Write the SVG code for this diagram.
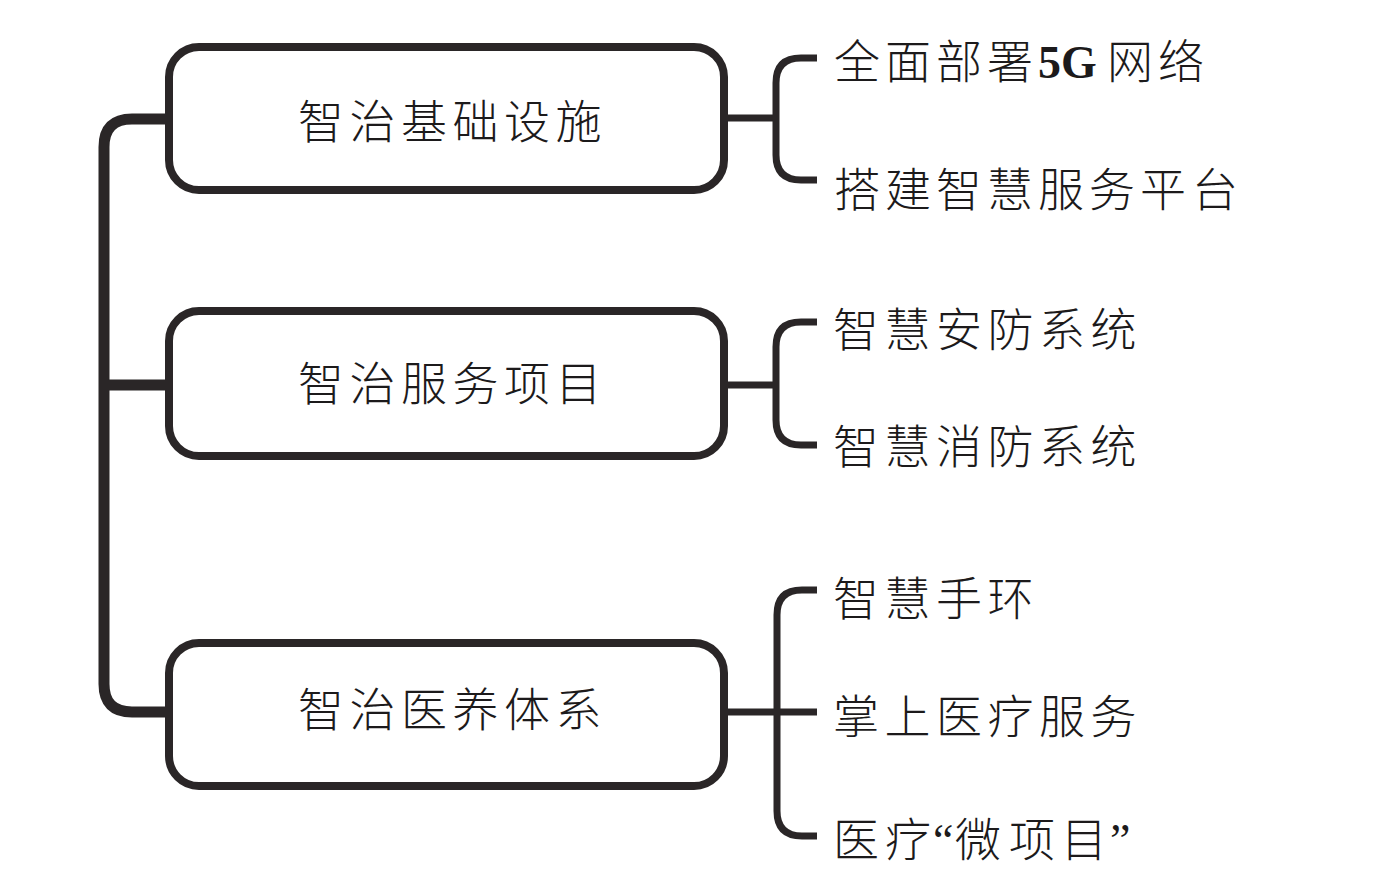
<svg xmlns="http://www.w3.org/2000/svg" width="1378" height="892" viewBox="0 0 1378 892">
<style>
.box{fill:#fff;stroke:#2a2627;stroke-width:8}
.trunk{fill:none;stroke:#2a2627;stroke-width:11}
.br{fill:none;stroke:#2a2627;stroke-width:7}
.t{font-family:"Noto Sans CJK SC","Noto Sans CJK JP",sans-serif;font-size:46px;font-weight:300;fill:#1c1a1b}
.lat{font-family:"Liberation Serif",serif;font-weight:bold}
.q{font-family:"Liberation Serif",serif}
</style>
<rect width="1378" height="892" fill="#fff"/>
<g id="connectors">
<path class="trunk" d="M169,119 H132 Q104,119 104,147 V684 Q104,712 132,712 H169 M104,385 H169"/>
<path class="br" d="M724,118 H776 M817,58 H801 Q776,58 776,83 V155 Q776,180 801,180 H817"/>
<path class="br" d="M724,385 H776 M817,322 H801 Q776,322 776,347 V420 Q776,445 801,445 H817"/>
<path class="br" d="M724,712 H817 M817,590 H802 Q777,590 777,615 V811 Q777,836 802,836 H817"/>
</g>
<g id="node-infra">
<rect class="box" x="169" y="47" width="555" height="143" rx="30"/>
<text class="t" x="298 349.5 401 452.5 504 555.5" y="138">智治基础设施</text>
</g>
<g id="node-service">
<rect class="box" x="169" y="311" width="555" height="145" rx="30"/>
<text class="t" x="298 349.5 401 452.5 504 555.5" y="400">智治服务项目</text>
</g>
<g id="node-medical">
<rect class="box" x="169" y="643" width="555" height="143" rx="30"/>
<text class="t" x="298 349.5 401 452.5 504 555.5" y="726">智治医养体系</text>
</g>
<g id="leaf-5g"><text class="t" y="78"><tspan x="834 885 936 987">全面部署</tspan><tspan class="lat" x="1038">5G</tspan><tspan x="1107 1158">网络</tspan></text></g>
<g id="leaf-platform"><text class="t" x="834 885 936 987 1038 1089 1140 1192" y="206">搭建智慧服务平台</text></g>
<g id="leaf-security"><text class="t" x="833 884.5 936 987.5 1039 1090.5" y="346">智慧安防系统</text></g>
<g id="leaf-fire"><text class="t" x="833 884.5 936 987.5 1039 1090.5" y="463">智慧消防系统</text></g>
<g id="leaf-band"><text class="t" x="833 884.5 936 987.5" y="615">智慧手环</text></g>
<g id="leaf-mobile"><text class="t" x="833 884.5 936 987.5 1039 1090.5" y="733">掌上医疗服务</text></g>
<g id="leaf-micro"><text class="t" y="856"><tspan x="833 885">医疗</tspan><tspan class="q" x="933">“</tspan><tspan x="955 1009 1061">微项目</tspan><tspan class="q" x="1110">”</tspan></text></g>
</svg>
